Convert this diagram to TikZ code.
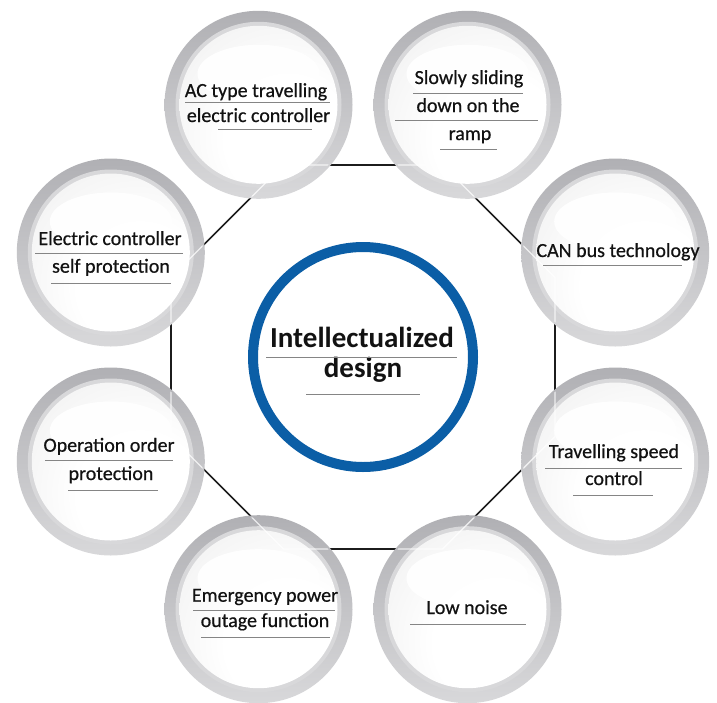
\documentclass[tikz,border=0pt]{standalone}
\usepackage{fontspec}
\setmainfont{Carlito}
\newfontfamily\lblfont{Carlito}[FakeBold=0.6]
\definecolor{ringtop}{HTML}{B0B0B4}
\definecolor{ringbot}{HTML}{D8D8DA}
\definecolor{bandc}{HTML}{D8D8DA}
\definecolor{bluering}{HTML}{0B5EA6}
\definecolor{octline}{HTML}{1C1C1C}
\definecolor{uline}{HTML}{858585}
\definecolor{txt}{HTML}{121212}
\pgfdeclareradialshading{discshade}{\pgfpoint{12bp}{-14bp}}{color(0bp)=(white); color(20bp)=(white); color(40bp)=(white!90!gray); color(56bp)=(white!74!gray); color(90bp)=(white!66!gray)}
\tikzset{
  lbl/.style={anchor=base, inner sep=0pt, text=txt, font=\lblfont\fontsize{20}{24}\selectfont},
  ctr/.style={anchor=base, inner sep=0pt, text=txt, font=\bfseries\fontsize{29}{34}\selectfont},
  uln/.style={draw=uline, line width=1pt},
  octa/.style={draw=octline, line width=1.6pt},
  octwhite/.style={draw=white, line width=1.4pt, draw opacity=0.75}
}
\newcommand{\bubble}[1]{%
  \shade[top color=ringtop, bottom color=ringbot] (#1) circle (94pt);
  \fill[bandc] (#1) circle (83pt);
  \shade[shading=discshade] (#1) circle (79pt);
  \fill[white, opacity=0.95] ([yshift=31pt]#1) ellipse [x radius=61pt, y radius=29pt];
}
\begin{document}
\begin{tikzpicture}[x=1pt,y=-1pt]
\useasboundingbox (0,0) rectangle (717,702);
\fill[white] (0,0) rectangle (717,702);
% bubble centres
\coordinate (c0) at (615.2,252.5);
\coordinate (c1) at (467.5,104.8);
\coordinate (c2) at (258.5,104.8);
\coordinate (c3) at (110.8,252.5);
\coordinate (c4) at (110.8,461.5);
\coordinate (c5) at (258.5,609.2);
\coordinate (c6) at (467.5,609.2);
\coordinate (c7) at (615.2,461.5);
% octagon vertices
\coordinate (v0) at (555,277.5);
\coordinate (v1) at (442.5,165);
\coordinate (v2) at (283.5,165);
\coordinate (v3) at (171,277.5);
\coordinate (v4) at (171,436.5);
\coordinate (v5) at (283.5,549);
\coordinate (v6) at (442.5,549);
\coordinate (v7) at (555,436.5);
\draw[octa] (v0) -- (v1) -- (v2) -- (v3) -- (v4) -- (v5) -- (v6) -- (v7) -- cycle;
% bubbles
\foreach \k in {0,...,7}{\bubble{c\k}}
\begin{scope}
\clip (c0) circle (92pt) (c1) circle (92pt) (c2) circle (92pt) (c3) circle (92pt)
      (c4) circle (92pt) (c5) circle (92pt) (c6) circle (92pt) (c7) circle (92pt);
\draw[octwhite] (v0) -- (v1) -- (v2) -- (v3) -- (v4) -- (v5) -- (v6) -- (v7) -- cycle;
\end{scope}
% AC type
\node[lbl] (t2a) at (256,97) {AC type travelling};
\node[lbl] (t2b) at (258.5,122) {electric controller};
\draw[uln] (185,102) -- (330,102);
\draw[uln] (218,129) -- (312,129);
% Slowly sliding
\node[lbl] (t1a) at (469,84) {Slowly sliding};
\node[lbl] (t1b) at (468,112) {down on the};
\node[lbl] (t1c) at (470,140) {ramp};
\draw[uln] (413,93.3) -- (523,93.3);
\draw[uln] (395,120.7) -- (538,120.7);
\draw[uln] (440,149) -- (497,149);
% CAN bus
\node[lbl] (t0a) at (618,257) {CAN bus technology};
\draw[uln] (543,265.7) -- (682,265.7);
% Travelling speed
\node[lbl] (t7a) at (614,458) {Travelling speed};
\node[lbl] (t7b) at (614,485) {control};
\draw[uln] (545,468) -- (682,468);
\draw[uln] (573,495.7) -- (653,495.7);
% Low noise
\node[lbl] (t6a) at (467,614) {Low noise};
\draw[uln] (410,624) -- (526,624);
% Emergency
\node[lbl] (t5a) at (265,601.7) {Emergency power};
\node[lbl] (t5b) at (265,627) {outage function};
\draw[uln] (193,610) -- (335,610);
\draw[uln] (201,637.3) -- (330,637.3);
% Operation order
\node[lbl] (t4a) at (109,451.7) {Operation order};
\node[lbl] (t4b) at (111,480) {protection};
\draw[uln] (45,460) -- (173,460);
\draw[uln] (68,490) -- (158,490);
% Electric controller
\node[lbl] (t3a) at (110,245) {Electric controller};
\node[lbl] (t3b) at (111,272.7) {self protection};
\draw[uln] (35,253.3) -- (183,253.3);
\draw[uln] (51,283.3) -- (171,283.3);
% centre
\draw[draw=bluering, line width=10pt, fill=white] (363,357) circle (110pt);
\node[ctr] (ca) at (362,347) {Intellectualized};
\node[ctr] (cb) at (363,377) {design};
\draw[uln] (266,357) -- (457,357);
\draw[uln] (306,394) -- (420,394);
\end{tikzpicture}
\end{document}
